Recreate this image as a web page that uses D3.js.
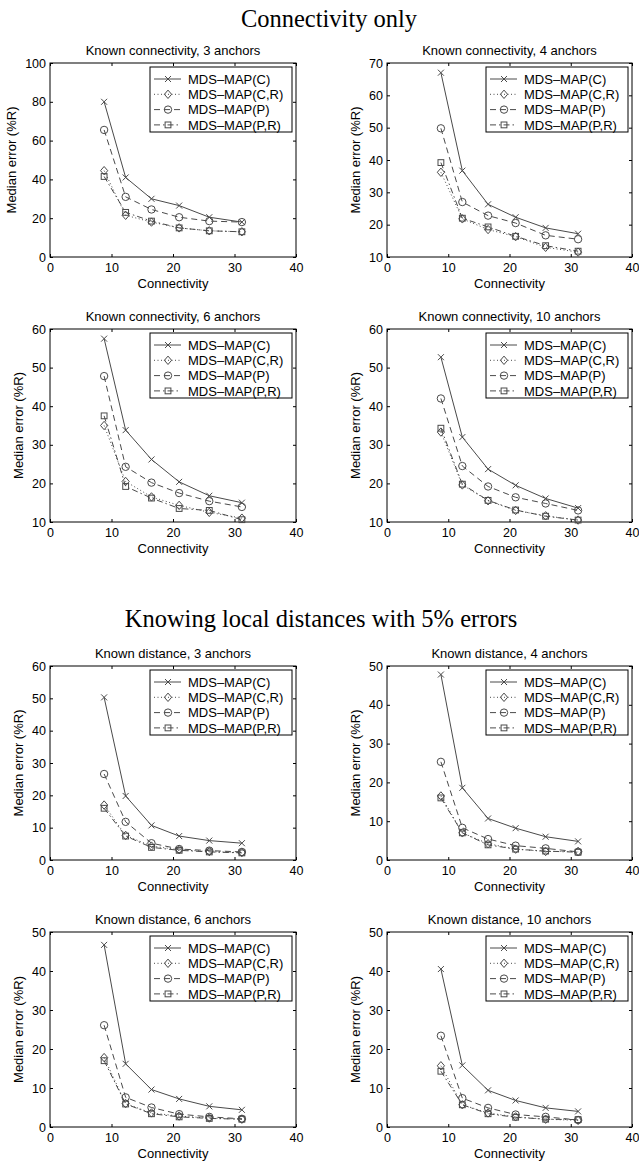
<!DOCTYPE html>
<meta charset="utf-8">
<style>
    body{ margin:0; background:#fff; }
    svg{ display:block; }
    .tick text{ font-family:"Liberation Sans", Arial, sans-serif; font-size:12.5px; fill:#000; }
    .tick line{ stroke:#000; }
    .ptitle, .xlabel, .ylabel, .legtext{ font-family:"Liberation Sans", Arial, sans-serif; fill:#000; }
    .big{ font-family:"Liberation Serif", "Times New Roman", serif; font-size:24.5px; fill:#000; }
</style>
<body>
<svg id="fig" width="639" height="1163"></svg>
</body>
<script src="https://d3js.org/d3.v7.min.js"></script>
<script>
// x values (connectivity) shared by every panel
const connectivity = [8.8, 12.3, 16.5, 21.0, 25.9, 31.2];
const seriesNames = ["MDS\u2013MAP(C)", "MDS\u2013MAP(C,R)", "MDS\u2013MAP(P)", "MDS\u2013MAP(P,R)"];
const xTicks = [0, 10, 20, 30, 40];

const panelTitles = [
    "Known connectivity, 3 anchors", "Known connectivity, 4 anchors",
    "Known connectivity, 6 anchors", "Known connectivity, 10 anchors",
    "Known distance, 3 anchors", "Known distance, 4 anchors",
    "Known distance, 6 anchors", "Known distance, 10 anchors"
];
const yDomains = [[0,100],[10,70],[10,60],[10,60],[0,60],[0,50],[0,50],[0,50]];
const yTicks = [
    [0,20,40,60,80,100], [10,20,30,40,50,60,70],
    [10,20,30,40,50,60], [10,20,30,40,50,60],
    [0,10,20,30,40,50,60], [0,10,20,30,40,50],
    [0,10,20,30,40,50], [0,10,20,30,40,50]
];

// order of each: C, (C,R), P, (P,R)
const conn3 = [
    [80, 41, 30, 26.5, 20.5, 18],
    [44.5, 21.5, 18, 15, 13.5, 13],
    [65.5, 31, 24.5, 20.5, 18.5, 18],
    [41.5, 23, 18.5, 15, 13.5, 13]];
const conn4 = [
    [67, 36.7, 26.3, 22.3, 19, 17.2],
    [36.2, 21.8, 18.5, 16.3, 13, 11.5],
    [49.8, 27, 22.8, 20.5, 16.7, 15.5],
    [39.2, 22, 19.3, 16.4, 13.5, 11.8]];
const conn6 = [
    [57.5, 33.8, 26.2, 20.4, 16.8, 15],
    [35, 20.5, 16.5, 14.3, 12.5, 11],
    [47.8, 24.3, 20.2, 17.5, 15.4, 13.9],
    [37.5, 19.2, 16.2, 13.5, 13, 10.6]];
const conn10 = [
    [52.7, 32, 23.7, 19.5, 16.1, 13.6],
    [33.3, 19.6, 15.5, 13, 11.6, 10.5],
    [42, 24.5, 19.2, 16.4, 14.8, 13],
    [34.3, 19.8, 15.6, 13.1, 11.5, 10.5]];
const dist3 = [
    [50.3, 19.8, 10.7, 7.4, 6, 5.2],
    [17, 7.6, 4.3, 3.2, 2.6, 2.3],
    [26.6, 11.8, 5.2, 3.4, 2.9, 2.5],
    [16, 7.4, 3.9, 3, 2.5, 2.2]];
const dist4 = [
    [47.8, 18.6, 10.7, 8.2, 6, 4.8],
    [16.5, 7, 4.2, 2.8, 2.2, 2.2],
    [25.3, 8.3, 5.4, 3.7, 3, 2.1],
    [16, 7, 3.9, 2.8, 2.3, 2]];
const dist6 = [
    [46.7, 16.2, 9.6, 7.2, 5.3, 4.4],
    [17.8, 6, 3.6, 2.8, 2.3, 2],
    [26.1, 7.6, 5, 3.3, 2.6, 2.1],
    [17, 5.9, 3.4, 2.6, 2.2, 2]];
const dist10 = [
    [40.5, 15.8, 9.4, 6.8, 4.9, 4],
    [15.7, 5.7, 3.6, 2.6, 2, 1.7],
    [23.4, 7.4, 4.9, 3.2, 2.6, 1.8],
    [14.3, 5.7, 3.4, 2.5, 2, 1.9]];
const panelData = [conn3, conn4, conn6, conn10, dist3, dist4, dist6, dist10];

// layout
const cols = [[50, 296], [387, 632]];
const rows = [[63, 257], [329, 522], [666, 860], [932, 1127]];
const lineColor = "#4a4a4a";
const dashes = [null, "1,2.5", "6,4", "6,3,1.5,3"];
const markers = ["x", "diamond", "circle", "square"];

const svg = d3.select("#fig");

svg.append("text").attr("class", "big")
    .attr("x", 329).attr("y", 27).attr("text-anchor", "middle")
    .text("Connectivity only");
svg.append("text").attr("class", "big")
    .attr("x", 321).attr("y", 627).attr("text-anchor", "middle")
    .text("Knowing local distances with 5% errors");

function drawMarker(g, type, cx, cy){
    if(type == "x"){
        g.append("path").attr("d", "M"+(cx-3)+","+(cy-3)+"L"+(cx+3)+","+(cy+3)+"M"+(cx-3)+","+(cy+3)+"L"+(cx+3)+","+(cy-3));
    } else if(type == "diamond"){
        g.append("path").attr("d", "M"+cx+","+(cy-4.2)+"L"+(cx+3.6)+","+cy+"L"+cx+","+(cy+4.2)+"L"+(cx-3.6)+","+cy+"Z");
    } else if(type == "circle"){
        g.append("circle").attr("cx", cx).attr("cy", cy).attr("r", 3.7);
    } else {
        g.append("rect").attr("x", cx-2.9).attr("y", cy-2.9).attr("width", 5.8).attr("height", 5.8);
    }
}

function panel(i){
    const [x0, x1] = cols[i % 2];
    const [y0, y1] = rows[Math.floor(i / 2)];
    const x = d3.scaleLinear().domain([0, 40]).range([x0, x1]);
    const y = d3.scaleLinear().domain(yDomains[i]).range([y1, y0]);
    const g = svg.append("g");

    // axes with inward ticks on all four sides
    const gb = g.append("g").attr("transform", "translate(0,"+y1+")")
        .call(d3.axisBottom(x).tickValues(xTicks).tickSizeInner(-3).tickSizeOuter(0).tickPadding(6));
    g.append("g").attr("transform", "translate(0,"+y0+")")
        .call(d3.axisTop(x).tickValues(xTicks).tickSizeInner(-3).tickSizeOuter(0).tickFormat(""));
    const gl = g.append("g").attr("transform", "translate("+x0+",0)")
        .call(d3.axisLeft(y).tickValues(yTicks[i]).tickSizeInner(-3).tickSizeOuter(0).tickPadding(4));
    g.append("g").attr("transform", "translate("+x1+",0)")
        .call(d3.axisRight(y).tickValues(yTicks[i]).tickSizeInner(-3).tickSizeOuter(0).tickFormat(""));
    g.selectAll(".domain").remove();
    gb.selectAll("text").attr("dy", "0.71em");

    g.append("rect").attr("x", x0).attr("y", y0).attr("width", x1-x0).attr("height", y1-y0)
        .attr("fill", "none").attr("stroke", "#000").attr("stroke-width", 1);

    g.append("text").attr("class", "ptitle").attr("font-size", 13)
        .attr("x", (x0+x1)/2).attr("y", y0-8).attr("text-anchor", "middle")
        .text(panelTitles[i]);
    g.append("text").attr("class", "xlabel").attr("font-size", 13)
        .attr("x", (x0+x1)/2).attr("y", y1+30.5).attr("text-anchor", "middle")
        .text("Connectivity");
    let maxW = 0;
    gl.selectAll("text").each(function(){ maxW = Math.max(maxW, this.getBBox().width); });
    const lx = x0 - 4 - maxW - 14;
    const ly = (y0+y1)/2;
    g.append("text").attr("class", "ylabel").attr("font-size", 13)
        .attr("transform", "translate("+lx+","+ly+") rotate(-90)")
        .attr("text-anchor", "middle").attr("dy", "0.35em")
        .text("Median error (%R)");

    // series
    const line = d3.line().x(function(d, k){ return x(connectivity[k]); }).y(function(d){ return y(d); });
    panelData[i].forEach(function(vals, s){
        g.append("path").attr("d", line(vals)).attr("fill", "none")
            .attr("stroke", lineColor).attr("stroke-width", 1)
            .attr("stroke-dasharray", dashes[s]);
        const mg = g.append("g").attr("fill", "none").attr("stroke", lineColor).attr("stroke-width", 1);
        vals.forEach(function(v, k){ drawMarker(mg, markers[s], x(connectivity[k]), y(v)); });
    });

    // legend
    const bx = x1 - 146, by = y0 + 4;
    g.append("rect").attr("x", bx).attr("y", by).attr("width", 142).attr("height", 65)
        .attr("fill", "#fff").attr("stroke", "#000").attr("stroke-width", 1);
    seriesNames.forEach(function(name, s){
        const ey = by + 12 + s*15.3;
        g.append("line").attr("x1", bx+4).attr("x2", bx+31).attr("y1", ey).attr("y2", ey)
            .attr("stroke", lineColor).attr("stroke-dasharray", dashes[s]);
        const mg = g.append("g").attr("fill", "none").attr("stroke", lineColor);
        drawMarker(mg, markers[s], bx+18, ey);
        g.append("text").attr("class", "legtext").attr("font-size", 13)
            .attr("x", bx+38).attr("y", ey).attr("dy", "0.36em").text(name);
    });
}

for(let i=0; i<8; i++) panel(i);
</script>
